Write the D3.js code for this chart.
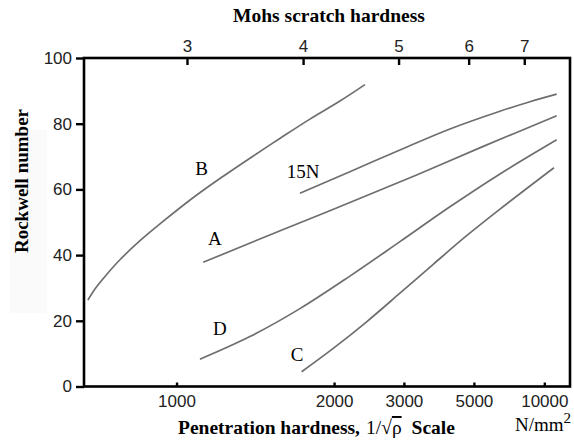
<!DOCTYPE html>
<html>
<head>
<meta charset="utf-8">
<script src="https://cdn.jsdelivr.net/npm/d3@7"></script>
<style>
  body { margin: 0; background: #fff; }
  svg { display: block; }
</style>
</head>
<body>
<svg id="chart" width="574" height="445"></svg>
<script>
// Bottom axis: penetration hardness in N/mm²
const hardnessTicks = [1000, 2000, 3000, 5000, 10000];
const hardnessExtent = [728, 13870];

// Top axis: Mohs numbers and the penetration hardness they line up with
const mohsValues = [3, 4, 5, 6, 7];
const mohsHardness = [1040, 1710, 2900, 4790, 8000];

// Left axis
const rockwellTicks = [0, 20, 40, 60, 80, 100];

// Curves as [penetration hardness, Rockwell number]
const curveB = [[737, 26.3], [754, 29.7], [779, 33.5], [818, 38.5], [876, 44.3], [958, 50.7],
  [1051, 56.7], [1183, 63.3], [1341, 69.5], [1532, 75.5], [1768, 81.4], [2063, 86.9], [2369, 91.9]];
const curve15N = [[1684, 58.8], [2177, 65.4], [2925, 72.0], [4136, 78.4], [6290, 83.8],
  [8503, 86.7], [11627, 89.0]];
const curveA = [[1107, 37.8], [1556, 47.8], [2177, 56.0], [3262, 64.4], [5414, 73.1], [11627, 82.4]];
const curveD = [[1093, 8.3], [1341, 15.2], [1684, 23.7], [2177, 33.6], [2925, 44.1],
  [4136, 54.7], [6290, 64.7], [11627, 75.1]];
const curveC = [[1698, 4.5], [1991, 11.6], [2392, 19.7], [2925, 28.4], [3659, 37.2],
  [4712, 45.9], [6290, 54.0], [11238, 66.6]];

const curveNames = ["B", "15N", "A", "D", "C"];
const labelHardness = [1100, 1711, 1159, 1183, 1662];
const labelRockwell = [66.5, 65.6, 45.1, 17.7, 9.8];

const width = 574, height = 445;
const margin = { top: 58, right: 4, bottom: 58.5, left: 84 };

const svg = d3.select("#chart");

// 1/sqrt scale for the penetration hardness
const x = d3.scalePow().exponent(-0.5)
  .domain(hardnessExtent)
  .range([margin.left, width - margin.right]);
const y = d3.scaleLinear()
  .domain([0, 100])
  .range([height - margin.bottom, margin.top]);

const sans = "'Liberation Sans', Arial, sans-serif";
const serif = "'Liberation Serif', 'Times New Roman', serif";

// faint box behind the y title
svg.append("rect")
  .attr("x", 10).attr("y", 130)
  .attr("width", 37).attr("height", 183)
  .attr("fill", "#fafafa");

function styleAxis(g) {
  g.select(".domain").remove();
  g.selectAll(".tick line").attr("stroke", "#000").attr("stroke-width", 2.4);
  g.selectAll(".tick text")
    .attr("font-family", sans)
    .attr("font-size", 17)
    .attr("fill", "#222");
}

// Left axis
svg.append("g")
  .attr("transform", `translate(${margin.left},0)`)
  .call(d3.axisLeft(y).tickValues(rockwellTicks).tickSize(8).tickPadding(4))
  .call(styleAxis);

// Bottom axis
svg.append("g")
  .attr("transform", `translate(0,${height - margin.bottom})`)
  .call(d3.axisBottom(x).tickValues(hardnessTicks).tickSizeInner(-4).tickSizeOuter(0)
    .tickPadding(8).tickFormat(d3.format("d")))
  .call(styleAxis);

// Top axis (Mohs)
svg.append("g")
  .attr("transform", `translate(0,${margin.top})`)
  .call(d3.axisTop(x).tickValues(mohsHardness).tickSizeInner(-7).tickSizeOuter(0)
    .tickPadding(6).tickFormat((d, i) => mohsValues[i]))
  .call(styleAxis);

// Frame
svg.append("rect")
  .attr("x", x.range()[0])
  .attr("y", y.range()[1])
  .attr("width", x.range()[1] - x.range()[0])
  .attr("height", y.range()[0] - y.range()[1])
  .attr("fill", "none")
  .attr("stroke", "#000")
  .attr("stroke-width", 2.6);

// Curves
const line = d3.line()
  .x(d => x(d[0]))
  .y(d => y(d[1]))
  .curve(d3.curveCatmullRom.alpha(0.5));

svg.append("g")
  .selectAll("path")
  .data([curveB, curve15N, curveA, curveD, curveC])
  .join("path")
  .attr("d", line)
  .attr("fill", "none")
  .attr("stroke", "#6e6e6e")
  .attr("stroke-width", 1.7);

// Curve labels
svg.append("g")
  .selectAll("text")
  .data(curveNames)
  .join("text")
  .attr("x", (d, i) => x(labelHardness[i]))
  .attr("y", (d, i) => y(labelRockwell[i]))
  .attr("dy", "0.35em")
  .attr("text-anchor", "middle")
  .attr("font-family", serif)
  .attr("font-size", 19)
  .text(d => d);

// Titles
svg.append("text")
  .attr("x", 329)
  .attr("y", 22)
  .attr("text-anchor", "middle")
  .attr("font-family", serif)
  .attr("font-weight", "bold")
  .attr("font-size", 19.5)
  .text("Mohs scratch hardness");

const xTitle = svg.append("text")
  .attr("x", 178)
  .attr("y", 434)
  .attr("font-family", serif)
  .attr("font-size", 19.5);
xTitle.append("tspan").attr("font-weight", "bold").text("Penetration hardness,");
xTitle.append("tspan").attr("dx", 6).text("1/√");
xTitle.append("tspan").style("text-decoration", "overline").text("ρ");
xTitle.append("tspan").attr("dx", 10).attr("font-weight", "bold").text("Scale");

const unit = svg.append("text")
  .attr("x", 515)
  .attr("y", 431)
  .attr("font-family", serif)
  .attr("font-size", 19);
unit.append("tspan").text("N/mm");
unit.append("tspan").attr("dy", -8).attr("font-size", 15).text("2");

svg.append("text")
  .attr("transform", "translate(27.5,181) rotate(-90)")
  .attr("text-anchor", "middle")
  .attr("font-family", serif)
  .attr("font-weight", "bold")
  .attr("font-size", 19)
  .text("Rockwell number");
</script>
</body>
</html>
